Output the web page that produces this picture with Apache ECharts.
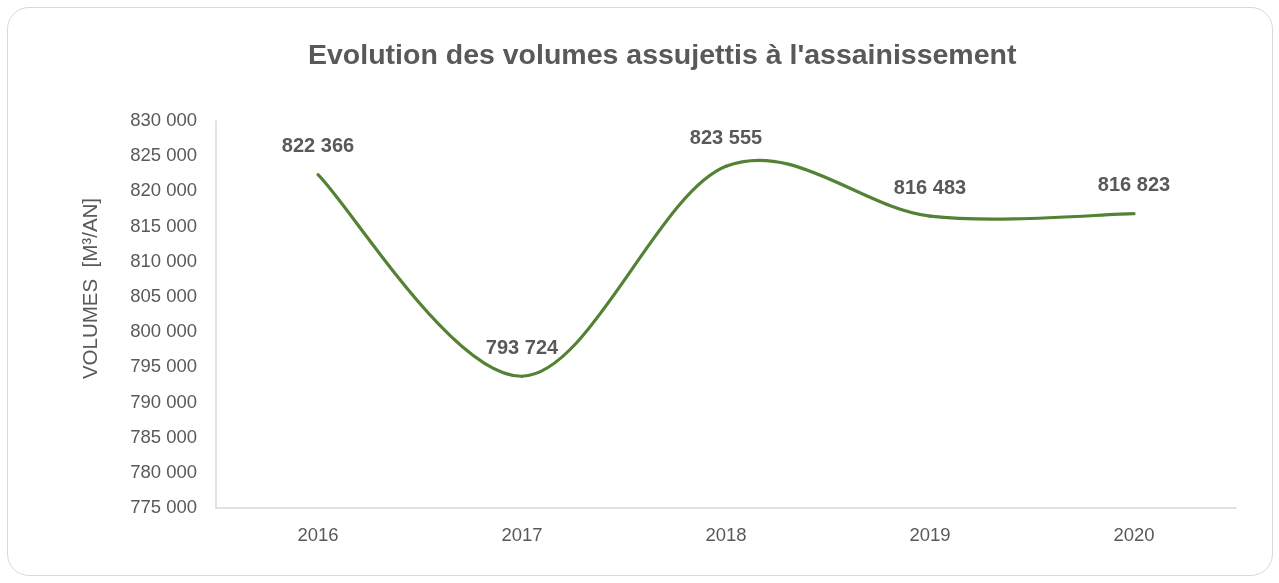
<!DOCTYPE html>
<html>
<head>
<meta charset="utf-8">
<script src="https://cdn.jsdelivr.net/npm/echarts@6/dist/echarts.min.js"></script>
<style>
	html, body { margin: 0; padding: 0; background: #fff; }
	#frame { position: absolute; left: 7px; top: 7px; width: 1266px; height: 569px; border: 1.5px solid #d9d9d9; border-radius: 22px; box-sizing: border-box; pointer-events: none; }
</style>
</head>
<body>
<div id="myChart" style="width:1279px;height:583px;"></div>
<div id="frame"></div>
<script>
	// années et volumes (m3/an)
	var years = ['2016', '2017', '2018', '2019', '2020'];
	var volumes = [822366, 793724, 823555, 816483, 816823];
	var yMin = 775000, yMax = 830000, yStep = 5000;

	// 822366 -> "822 366"
	function fmt(v) {
		return String(v).replace(/\B(?=(\d{3})+(?!\d))/g, ' ');
	}

	// courbe lissée façon Excel : un segment de Bézier par intervalle,
	// points de contrôle à 1/6 de l'écart entre les voisins
	function renderCurve(params, api) {
		var i = params.dataIndex;
		var n = volumes.length;
		if (i >= n - 1) return null;
		var pt = function (k) {
			k = Math.max(0, Math.min(n - 1, k));
			return api.coord([k, volumes[k]]);
		};
		var p0 = pt(i - 1), p1 = pt(i), p2 = pt(i + 1), p3 = pt(i + 2);
		return {
			type: 'bezierCurve',
			shape: {
				x1: p1[0], y1: p1[1],
				cpx1: p1[0] + (p2[0] - p0[0]) / 6, cpy1: p1[1] + (p2[1] - p0[1]) / 6,
				cpx2: p2[0] - (p3[0] - p1[0]) / 6, cpy2: p2[1] - (p3[1] - p1[1]) / 6,
				x2: p2[0], y2: p2[1]
			},
			style: { fill: null, stroke: '#548235', lineWidth: 3.2, lineCap: 'round' }
		};
	}

	var option = {
		animation: false,
		textStyle: { fontFamily: 'Liberation Sans, Arial, sans-serif' },
		title: {
			text: "Evolution des volumes assujettis à l'assainissement",
			left: 303,
			top: 37,
			textStyle: { fontSize: 28.5, fontWeight: 'bold', color: '#595959' }
		},
		grid: { left: 216, right: 43, top: 121, bottom: 75 },
		xAxis: {
			type: 'category',
			data: years,
			axisLine: { lineStyle: { color: '#d9d9d9', width: 1.5 } },
			axisTick: { show: false },
			axisLabel: { color: '#595959', fontSize: 18.5, margin: 18 }
		},
		yAxis: {
			type: 'value',
			min: yMin,
			max: yMax,
			interval: yStep,
			name: 'VOLUMES  [M³/AN]',
			nameLocation: 'middle',
			nameGap: 114,
			nameTextStyle: { color: '#595959', fontSize: 20.5, padding: [0, 0, 0, 52] },
			axisLine: { show: true, lineStyle: { color: '#d9d9d9', width: 1.5 } },
			axisTick: { show: false },
			splitLine: { show: false },
			axisLabel: { color: '#595959', fontSize: 18.5, margin: 19, formatter: fmt }
		},
		series: [{
			type: 'custom',
			renderItem: renderCurve,
			data: volumes,
			z: 2
		}, {
			// étiquettes des valeurs
			type: 'line',
			data: volumes,
			symbol: 'circle',
			symbolSize: 1,
			showAllSymbol: true,
			itemStyle: { color: 'rgba(0,0,0,0)' },
			lineStyle: { opacity: 0 },
			z: 3,
			label: {
				show: true,
				position: 'top',
				distance: 17.5,
				color: '#595959',
				fontSize: 20,
				fontWeight: 'bold',
				formatter: function (p) { return fmt(p.value); }
			}
		}]
	};

	var myChart = echarts.init(document.getElementById('myChart'));
	myChart.setOption(option);
</script>
</body>
</html>
